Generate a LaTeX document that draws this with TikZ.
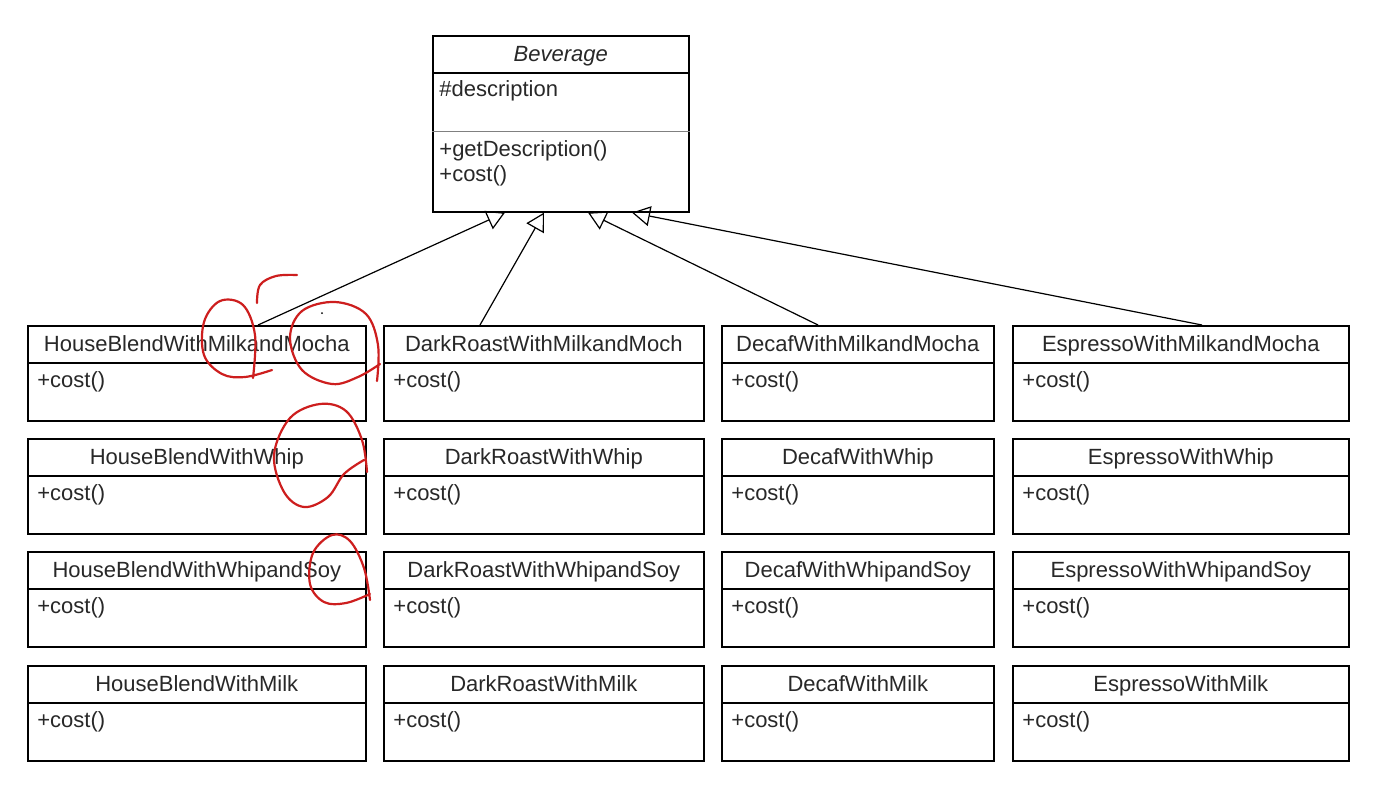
\documentclass[tikz,border=0pt]{standalone}
\usepackage{fontspec}
\setmainfont{Liberation Sans}
\usetikzlibrary{arrows.meta}

\definecolor{penred}{RGB}{205,30,30}
\definecolor{umltext}{RGB}{40,40,40}

\tikzset{
    classbox/.style={draw, line width=0.8pt, anchor=north west, inner sep=0pt, minimum height=47.5pt},
    classname/.style={font=\fontsize{11}{13}\selectfont, text=umltext, inner sep=0pt, text height=8pt, text depth=2.4pt},
    member/.style={font=\fontsize{11}{13}\selectfont, text=umltext, anchor=west, inner sep=0pt, text height=8pt, text depth=2.4pt},
    inherit/.style={line width=0.6pt, -{Triangle[open, width=10pt, length=9pt]}},
    scribble/.style={draw=penred, line width=1.1pt, line cap=round, line join=round}
}

% one class with a name part and a +cost() part
\newcommand{\umlclass}[5]{%
    \node[classbox, minimum width=#4] (#1) at (#2,#3) {};
    \draw[line width=0.8pt] ([yshift=-19pt]#1.north west) -- ([yshift=-19pt]#1.north east);
    \node[classname] (#1-name) at ([yshift=-10.5pt]#1.north) {#5};
    \node[member] (#1-op) at ([xshift=5pt,yshift=-28.5pt]#1.north west) {+cost()};
}

\begin{document}
\begin{tikzpicture}[x=0.5pt, y=-0.5pt]
    \useasboundingbox[fill=white] (0,0) rectangle (1398,788);

    % Abstract base class
    \node[classbox, minimum width=128pt, minimum height=88pt] (bev) at (432,35) {};
    \draw[line width=0.8pt] ([yshift=-19pt]bev.north west) -- ([yshift=-19pt]bev.north east);
    \draw[line width=0.4pt, gray] ([yshift=-48pt]bev.north west) -- ([yshift=-48pt]bev.north east);
    \node[classname, font=\fontsize{11}{13}\selectfont\itshape] (bev-name) at ([yshift=-10.5pt]bev.north) {Beverage};
    \node[member] (bev-attr) at ([xshift=3.5pt,yshift=-28pt]bev.north west) {\#description};
    \node[member] (bev-op1) at ([xshift=3.5pt,yshift=-58pt]bev.north west) {+getDescription()};
    \node[member] (bev-op2) at ([xshift=3.5pt,yshift=-70.5pt]bev.north west) {+cost()};

    % Row 1: milk and mocha
    \umlclass{hbmm}{27}{325}{169pt}{HouseBlendWithMilkandMocha}
    \umlclass{drmm}{383}{325}{160pt}{DarkRoastWithMilkandMoch}
    \umlclass{dcmm}{721}{325}{136pt}{DecafWithMilkandMocha}
    \umlclass{esmm}{1012}{325}{168pt}{EspressoWithMilkandMocha}

    % Row 2: whip
    \umlclass{hbw}{27}{438}{169pt}{HouseBlendWithWhip}
    \umlclass{drw}{383}{438}{160pt}{DarkRoastWithWhip}
    \umlclass{dcw}{721}{438}{136pt}{DecafWithWhip}
    \umlclass{esw}{1012}{438}{168pt}{EspressoWithWhip}

    % Row 3: whip and soy
    \umlclass{hbws}{27}{551}{169pt}{HouseBlendWithWhipandSoy}
    \umlclass{drws}{383}{551}{160pt}{DarkRoastWithWhipandSoy}
    \umlclass{dcws}{721}{551}{136pt}{DecafWithWhipandSoy}
    \umlclass{esws}{1012}{551}{168pt}{EspressoWithWhipandSoy}

    % Row 4: milk
    \umlclass{hbm}{27}{665}{169pt}{HouseBlendWithMilk}
    \umlclass{drm}{383}{665}{160pt}{DarkRoastWithMilk}
    \umlclass{dcm}{721}{665}{136pt}{DecafWithMilk}
    \umlclass{esm}{1012}{665}{168pt}{EspressoWithMilk}

    % Generalisations
    \draw[inherit] ([xshift=115.5pt]hbmm.north west) -- ([xshift=36.5pt]bev.south west);
    \draw[inherit] ([xshift=48.5pt]drmm.north west) -- ([xshift=56pt]bev.south west);
    \draw[inherit] ([xshift=48.5pt]dcmm.north west) -- ([xshift=78pt]bev.south west);
    \draw[inherit] ([xshift=95pt]esmm.north west) -- ([xshift=100pt]bev.south west);

    % Hand-drawn pen marks
    \draw[scribble] plot[smooth, tension=0.6] coordinates {(257,303) (260,285) (276,276) (297,275)};
    \draw[scribble] plot[smooth, tension=0.6] coordinates {(253,378) (255,335) (243,305) (220,301) (204,322) (204,355) (222,374) (245,377) (272,370)};
    \draw[scribble] plot[smooth, tension=0.6] coordinates {(377,381) (378,345) (366,314) (335,302) (302,311) (290,338) (302,370) (332,384) (358,377) (380,364)};
    \draw[scribble] plot[smooth, tension=0.6] coordinates {(367,472) (362,440) (346,411) (320,404) (290,418) (274,455) (284,492) (304,507) (328,497) (344,474) (364,460)};
    \draw[scribble] plot[smooth, tension=0.6] coordinates {(370,600) (364,568) (350,541) (332,535) (313,553) (310,584) (324,602) (346,603) (370,594)};
    \fill (322,313) circle (1);
\end{tikzpicture}
\end{document}
